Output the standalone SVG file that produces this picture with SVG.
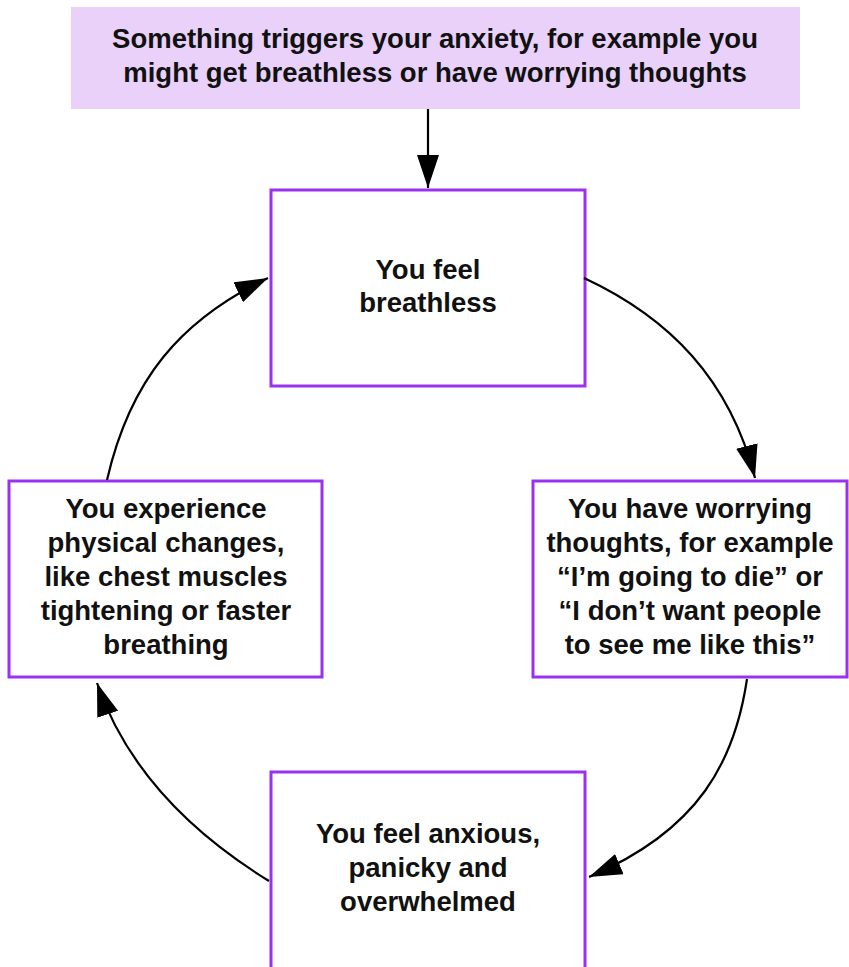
<svg xmlns="http://www.w3.org/2000/svg" width="849" height="967" viewBox="0 0 849 967">
<defs>
<style>
.box{fill:#fff;stroke:#9A30F0;stroke-width:3}
.top{fill:#E9D1FA;stroke:none}
.t{font-family:"Liberation Sans","Arial",sans-serif;font-weight:bold;font-size:27.5px;fill:#111;text-anchor:middle}
.c{fill:none;stroke:#000;stroke-width:2.2}
</style>
<marker id="ah" markerUnits="userSpaceOnUse" markerWidth="36" markerHeight="24" refX="33" refY="11" orient="auto">
<path d="M0,0 L33,11 L0,22 Z" fill="#000"/>
</marker>
</defs>
<rect width="849" height="967" fill="#fff"/>
<g id="trigger">
<rect class="top" x="71" y="7" width="729" height="102"/>
<text class="t" x="435" y="48">Something triggers your anxiety, for example you</text>
<text class="t" x="435" y="82">might get breathless or have worrying thoughts</text>
</g>
<g id="breathless">
<rect class="box" x="271" y="190" width="314" height="196"/>
<text class="t" x="428" y="279">You feel</text>
<text class="t" x="428" y="312">breathless</text>
</g>
<g id="thoughts">
<rect class="box" x="533" y="481" width="314" height="196"/>
<text class="t" x="690" y="518">You have worrying</text>
<text class="t" x="690" y="552">thoughts, for example</text>
<text class="t" x="690" y="586">“I’m going to die” or</text>
<text class="t" x="690" y="620">“I don’t want people</text>
<text class="t" x="690" y="654">to see me like this”</text>
</g>
<g id="physical">
<rect class="box" x="9" y="481" width="313" height="196"/>
<text class="t" x="166" y="518">You experience</text>
<text class="t" x="166" y="552">physical changes,</text>
<text class="t" x="166" y="586">like chest muscles</text>
<text class="t" x="166" y="620">tightening or faster</text>
<text class="t" x="166" y="654">breathing</text>
</g>
<g id="anxious">
<rect class="box" x="271" y="772" width="314" height="200"/>
<text class="t" x="428" y="843">You feel anxious,</text>
<text class="t" x="428" y="877">panicky and</text>
<text class="t" x="428" y="911">overwhelmed</text>
</g>
<g id="connectors">
<path class="c" d="M428,109 L428,188" marker-end="url(#ah)"/>
<path class="c" d="M584,278 C670,318 730,380 755,478" marker-end="url(#ah)"/>
<path class="c" d="M747,679 C735,760 700,830 589,877" marker-end="url(#ah)"/>
<path class="c" d="M269,881 C170,820 120,750 97,683" marker-end="url(#ah)"/>
<path class="c" d="M107,480 C130,380 180,320 268,278" marker-end="url(#ah)"/>
</g>
</svg>
